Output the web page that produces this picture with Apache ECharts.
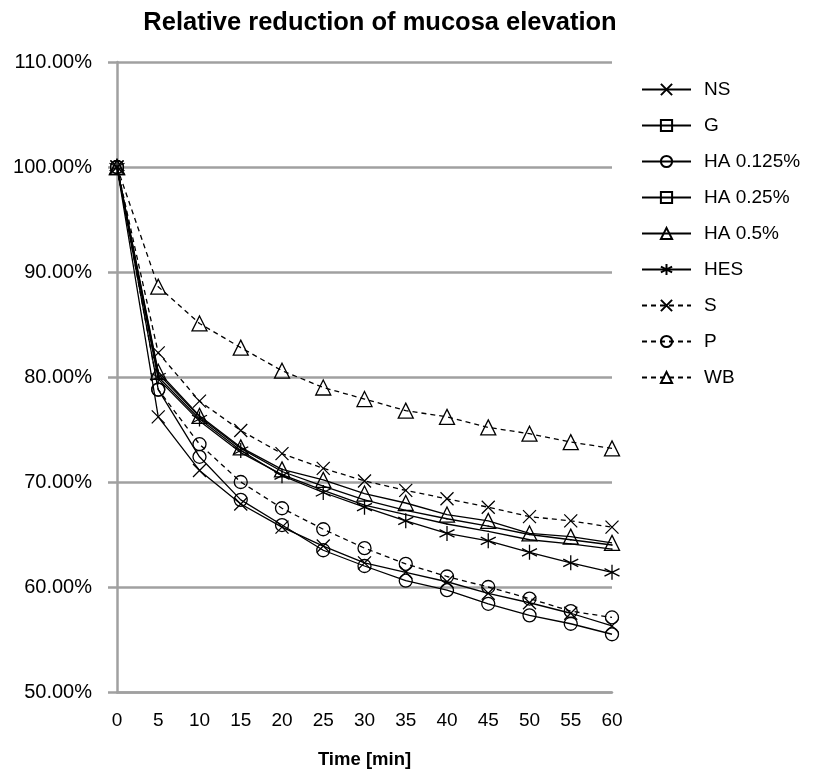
<!DOCTYPE html>
<html>
<head>
<meta charset="utf-8">
<script src="https://cdn.jsdelivr.net/npm/echarts@6/dist/echarts.min.js"></script>
<style>
html,body{margin:0;padding:0;background:#fff;}
#chart{width:814px;height:777px;}
</style>
</head>
<body>
<div id="chart"></div>
<script>
const times = [0, 5, 10, 15, 20, 25, 30, 35, 40, 45, 50, 55, 60];
const yTicks = [50, 60, 70, 80, 90, 100, 110];

const NS    = [100, 76.2, 71.1, 67.9, 65.7, 63.9, 62.3, 61.4, 60.5, 59.4, 58.5, 57.5, 56.3];
const G     = [100, 80.3, 76.2, 73.2, 71.0, 69.6, 68.3, 67.3, 66.5, 65.8, 65.0, 64.5, 64.0];
const HA0125= [100, 78.8, 72.4, 68.3, 65.9, 63.5, 62.0, 60.6, 59.7, 58.4, 57.3, 56.5, 55.5];
const HA025 = [100, 79.8, 75.8, 72.8, 70.7, 69.2, 67.8, 66.9, 66.0, 65.3, 64.5, 64.1, 63.6];
const HA05  = [100, 80.5, 76.3, 73.3, 71.2, 70.2, 68.9, 68.0, 66.9, 66.3, 65.1, 64.8, 64.2];
const HES   = [100, 80.0, 76.0, 73.0, 70.6, 69.0, 67.6, 66.3, 65.1, 64.4, 63.3, 62.3, 61.4];
const S     = [100, 82.3, 77.7, 74.9, 72.7, 71.3, 70.1, 69.2, 68.4, 67.6, 66.7, 66.3, 65.7];
const P     = [100, 78.8, 73.6, 70.0, 67.5, 65.5, 63.7, 62.2, 61.0, 60.0, 58.9, 57.7, 57.1];
const WB    = [100, 88.6, 85.1, 82.8, 80.6, 79.0, 77.9, 76.8, 76.2, 75.2, 74.6, 73.8, 73.2];

const FONT = "'Liberation Sans', Arial, sans-serif";
const CROSS = 'path://M0,0L10,10M10,0L0,10';
const STAR = 'path://M5,0L5,10M0.7,2.5L9.3,7.5M0.7,7.5L9.3,2.5';

function mk(name, vals, symbol, size, dashed) {
  return {
    name: name,
    type: 'line',
    data: vals.map((v, i) => [times[i], v]),
    symbol: symbol,
    symbolSize: size,
    showSymbol: true,
    z: dashed ? 3 : 2,
    lineStyle: { color: '#000', width: 1.3, type: dashed ? [5, 4] : 'solid' },
    itemStyle: { color: 'rgba(0,0,0,0)', borderColor: '#000', borderWidth: 1.3 },
    emphasis: { disabled: true },
    animation: false
  };
}

const chart = echarts.init(document.getElementById('chart'), null, { renderer: 'canvas' });
chart.setOption({
  backgroundColor: '#fff',
  animation: false,
  title: {
    text: 'Relative reduction of mucosa elevation',
    left: 375, top: 5, textAlign: 'center',
    textStyle: { fontFamily: FONT, fontWeight: 'bold', fontSize: 25.5, color: '#000' }
  },
  legend: {
    orient: 'vertical', left: 636, top: 75,
    itemWidth: 49, itemHeight: 14, itemGap: 17,
    textStyle: { fontFamily: FONT, fontSize: 19, color: '#000', padding: [0, 0, 0, 8] },
    data: ['NS', 'G', 'HA 0.125%', 'HA 0.25%', 'HA 0.5%', 'HES', 'S', 'P', 'WB']
  },
  grid: { left: 117, right: 202, top: 62, bottom: 85 },
  xAxis: {
    type: 'value', min: 0, max: 60, interval: 5,
    name: 'Time [min]', nameLocation: 'middle', nameGap: 58,
    nameTextStyle: { fontFamily: FONT, fontWeight: 'bold', fontSize: 18.5, color: '#000' },
    axisLine: { lineStyle: { color: '#a0a0a0', width: 2.5 } },
    axisTick: { show: false },
    splitLine: { show: false },
    axisLabel: { margin: 19, fontFamily: FONT, fontSize: 19, color: '#000' }
  },
  yAxis: {
    type: 'value', min: yTicks[0], max: yTicks[yTicks.length - 1], interval: 10,
    axisLine: { show: true, lineStyle: { color: '#a0a0a0', width: 2.5 } },
    axisTick: { show: true, length: 9, lineStyle: { color: '#a0a0a0', width: 2.5 } },
    splitLine: { lineStyle: { color: '#a0a0a0', width: 2.5 } },
    axisLabel: { margin: 25, fontFamily: FONT, fontSize: 20, color: '#000',
      formatter: v => v.toFixed(2) + '%' }
  },
  series: [
    mk('NS', NS, CROSS, 13, false),
    mk('G', G, 'rect', 0.01, false),
    mk('HA 0.125%', HA0125, 'circle', 13, false),
    mk('HA 0.25%', HA025, 'rect', 0.01, false),
    mk('HA 0.5%', HA05, 'triangle', 15, false),
    mk('HES', HES, STAR, 15, false),
    mk('S', S, CROSS, 13, true),
    mk('P', P, 'circle', 13, true),
    mk('WB', WB, 'triangle', 15, true)
  ]
});
</script>
</body>
</html>
